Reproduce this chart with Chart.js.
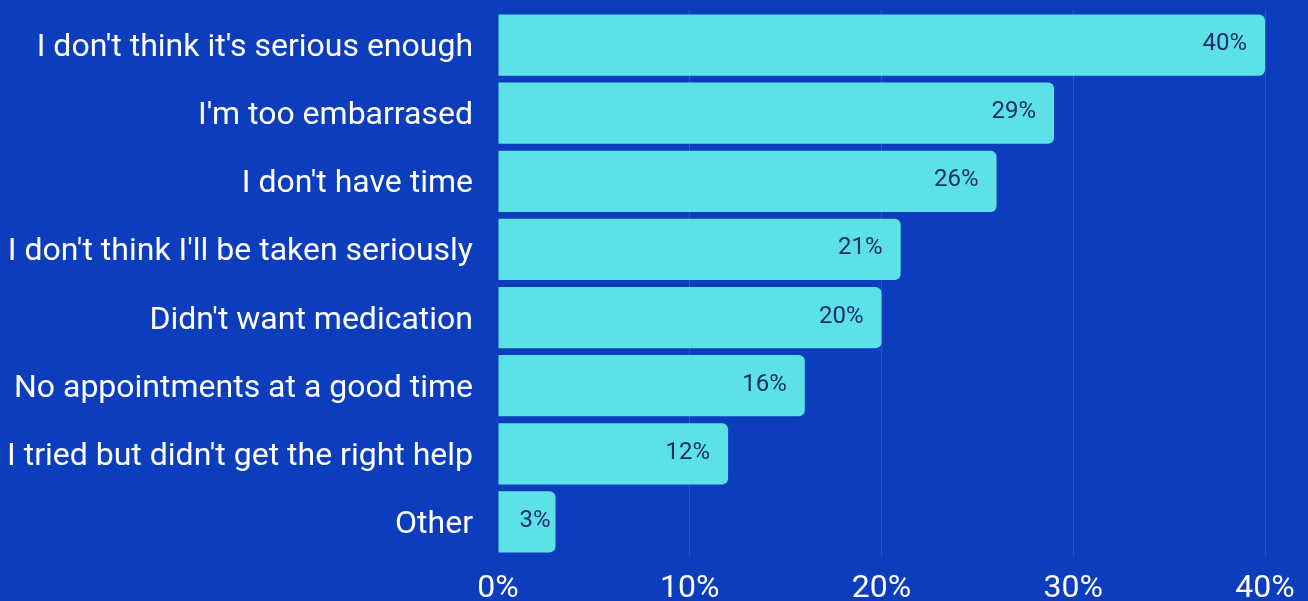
<!DOCTYPE html>
<html>
<head>
<meta charset="utf-8">
<script src="https://cdn.jsdelivr.net/npm/chart.js@4.4.1/dist/chart.umd.min.js"></script>
<style>
  html, body { margin: 0; padding: 0; background: #0b3dbd; overflow: hidden; }
  #wrap { position: relative; width: 1308px; height: 608px; }
</style>
</head>
<body>
<div id="wrap"><canvas id="chart"></canvas></div>
<script>
// Reasons given for not seeking help, share of respondents (%)
const reasons = [
  "I don't think it's serious enough",
  "I'm too embarrased",
  "I don't have time",
  "I don't think I'll be taken seriously",
  "Didn't want medication",
  "No appointments at a good time",
  "I tried but didn't get the right help",
  "Other"
];
const shares = [40, 29, 26, 21, 20, 16, 12, 3];
const axisTicks = [0, 10, 20, 30, 40];

const FONT = "Roboto";

// Draws each bar's value just inside its right end
const valueLabels = {
  id: 'valueLabels',
  afterDatasetsDraw(chart) {
    const ctx = chart.ctx;
    const meta = chart.getDatasetMeta(0);
    ctx.save();
    ctx.font = "400 24px " + FONT;
    ctx.fillStyle = "#1b2d6b";
    ctx.textAlign = "right";
    ctx.textBaseline = "middle";
    meta.data.forEach((bar, i) => {
      const pad = shares[i] < 5 ? 5 : 18;
      ctx.fillText(shares[i] + "%", bar.x - pad, bar.y - 1);
    });
    ctx.restore();
  }
};

new Chart(document.getElementById('chart'), {
  type: 'bar',
  data: {
    labels: reasons,
    datasets: [{
      data: shares,
      backgroundColor: "#5ce1e6",
      borderRadius: 6,
      borderSkipped: 'start',
      barPercentage: 0.9,
      categoryPercentage: 1
    }]
  },
  options: {
    indexAxis: 'y',
    responsive: true,
    maintainAspectRatio: false,
    animation: false,
    layout: { padding: { top: 11, right: 43, bottom: 0, left: 0 } },
    plugins: { legend: { display: false }, tooltip: { enabled: false } },
    scales: {
      x: {
        min: 0,
        max: 40,
        afterBuildTicks(scale) { scale.ticks = axisTicks.map(v => ({ value: v })); },
        afterFit(scale) { scale.height = 52; scale.paddingLeft = 0; scale.paddingRight = 0; },
        grid: {
          color: (c) => c.tick && c.tick.value === 0 ? "rgba(0,0,0,0)" : "rgba(255,255,255,0.14)",
          drawTicks: false,
          lineWidth: 1
        },
        border: { display: false },
        ticks: {
          color: "#ffffff",
          padding: 14,
          font: { family: FONT, size: 32 },
          callback: (v) => v + "%"
        }
      },
      y: {
        afterFit(scale) { scale.width = 498; scale.paddingTop = 0; scale.paddingBottom = 0; },
        grid: { display: false, drawTicks: false },
        border: { display: false },
        ticks: {
          color: "#ffffff",
          padding: 25,
          labelOffset: 3,
          font: { family: FONT, size: 32 }
        }
      }
    }
  },
  plugins: [valueLabels]
});
</script>
</body>
</html>
